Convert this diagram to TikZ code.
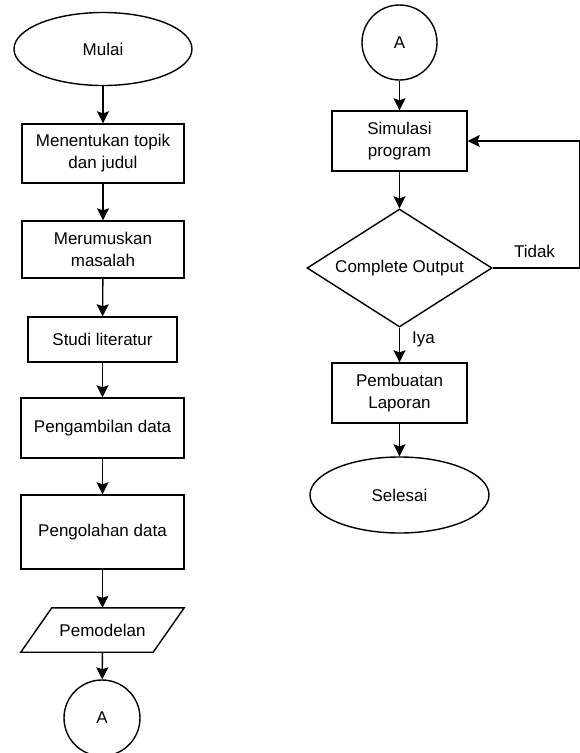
\documentclass[tikz,border=0pt]{standalone}
\usepackage{fontspec}
\setmainfont{Liberation Sans}
\usetikzlibrary{shapes.geometric,arrows.meta}

\begin{document}
\begin{tikzpicture}[x=1pt, y=-1pt,
  every node/.style={font=\fontsize{17}{22}\selectfont, align=center, inner sep=0pt},
  proses/.style={draw, line width=1.4pt, rectangle},
  terminal/.style={draw, line width=1.4pt, ellipse, minimum width=178, minimum height=73},
  konektor/.style={draw, line width=1.4pt, circle, minimum size=75},
  panah/.style={-{Stealth[length=12pt, width=12pt, inset=2pt]}, line width=1.4pt}]
  \useasboundingbox (0,0) rectangle (580,753);

  % kolom kiri
  \node[terminal] (mulai) at (103,49) {Mulai};
  \node[proses, minimum width=162, minimum height=59] (topik) at (103,153.5) {Menentukan topik\\dan judul};
  \node[proses, minimum width=162, minimum height=57] (masalah) at (103,249.5) {Merumuskan\\masalah};
  \node[proses, minimum width=149, minimum height=45] (studi) at (102.5,339.5) {Studi literatur};
  \node[proses, minimum width=163, minimum height=60] (ambil) at (102.5,428) {Pengambilan data};
  \node[proses, minimum width=163, minimum height=74] (olah) at (102.5,532) {Pengolahan data};
  \node[minimum width=132, minimum height=44] (model) at (102.5,630) {Pemodelan};
  \draw[line width=1.4pt, line join=miter] ([xshift=-15.5pt]model.south west) -- ([xshift=15.5pt]model.north west)
    -- ([xshift=15.5pt]model.north east) -- ([xshift=-15.5pt]model.south east) -- cycle;
  \node[konektor, minimum size=76] (a-1) at (102,718) {A};

  \foreach \from/\to in {mulai/topik, topik/masalah, masalah/studi, studi/ambil, ambil/olah, olah/model, model/a-1} {
    \draw[panah] (\from) -- (\to);
  }

  % kolom kanan
  \node[konektor] (a-2) at (399.5,42.5) {A};
  \node[proses, minimum width=135, minimum height=60] (simulasi) at (399.5,141) {Simulasi\\program};
  \node[draw, line width=1.4pt, diamond, aspect=1.57, minimum width=185, minimum height=118] (cek) at (399.5,268) {Complete Output};
  \node[proses, minimum width=135, minimum height=60] (laporan) at (399.5,393) {Pembuatan\\Laporan};
  \node[terminal, minimum width=179, minimum height=76] (selesai) at (399.5,495) {Selesai};
  \coordinate (balik) at (579.5,268);

  \foreach \from/\to in {a-2/simulasi, simulasi/cek, laporan/selesai} {
    \draw[panah] (\from) -- (\to);
  }
  \draw[panah] (cek) -- (laporan) node[pos=0.35, right=12pt] (iya) {Iya};
  \draw[panah] (cek.east) -- (balik) |- (simulasi.east);
  \node (tidak) at (534.5,251) {Tidak};

\end{tikzpicture}
\end{document}
